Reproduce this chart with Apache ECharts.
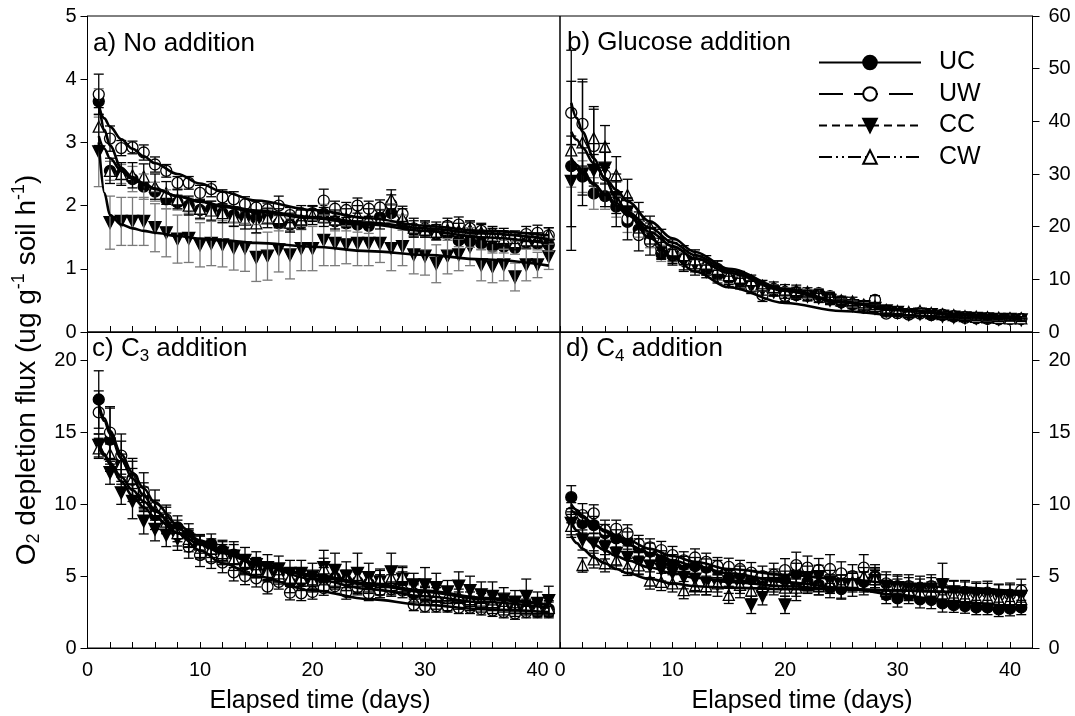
<!DOCTYPE html>
<html><head><meta charset="utf-8">
<script src="https://cdn.jsdelivr.net/npm/echarts@6/dist/echarts.min.js"></script>
<style>html,body{margin:0;padding:0;background:#fff}#chart{width:1075px;height:716px}</style>
</head><body><div id="chart"></div>
<script>
// ---------- DATA ----------
const days = [1,2,3,4,5,6,7,8,9,10,11,12,13,14,15,16,17,18,19,20,21,22,23,24,25,26,27,28,29,30,31,32,33,34,35,36,37,38,39,40,41];
const fitDays = [1,1.5,2,3,4,5,6,8,10,12,15,20,25,30,35,41];
const seriesNames = ['UC','UW','CC','CW'];
const panelTitles = ['a) No addition','b) Glucose addition','c) C3 addition','d) C4 addition'];
const xTickLabels = [0,10,20,30,40];
const yTicksA = [0,1,2,3,4,5];
const yTicksB = [0,10,20,30,40,50,60];
const yTicksCD = [0,5,10,15,20];

// a) No addition
const aUC = [3.65,2.55,2.5,2.42,2.3,2.22,2.1,2.05,2.0,1.93,1.95,1.88,1.85,1.82,1.8,1.85,1.72,1.7,1.72,1.88,1.87,1.75,1.72,1.7,1.68,1.82,1.88,1.73,1.6,1.6,1.55,1.55,1.45,1.44,1.4,1.35,1.35,1.33,1.42,1.4,1.38];
const aUW = [3.76,3.06,2.91,2.92,2.84,2.65,2.55,2.36,2.36,2.2,2.26,2.13,2.1,2.02,1.97,1.94,2.0,1.85,1.88,1.87,2.08,1.95,1.93,2.0,1.95,1.97,2.02,1.87,1.64,1.64,1.62,1.68,1.7,1.64,1.6,1.55,1.52,1.5,1.55,1.57,1.53];
const aCC = [2.85,1.73,1.75,1.75,1.75,1.65,1.57,1.47,1.48,1.38,1.4,1.38,1.33,1.33,1.18,1.2,1.3,1.22,1.32,1.32,1.45,1.4,1.38,1.4,1.4,1.4,1.32,1.35,1.22,1.2,1.08,1.2,1.22,1.35,1.06,1.03,1.06,0.87,1.06,1.06,1.19];
const aCW = [3.25,2.55,2.5,2.48,2.46,2.3,2.2,2.1,2.0,1.95,1.92,1.88,1.82,1.78,1.72,1.8,1.8,1.73,1.78,1.85,1.82,1.78,1.8,1.85,1.8,1.78,2.1,1.8,1.65,1.62,1.58,1.62,1.6,1.62,1.58,1.52,1.48,1.42,1.45,1.45,1.55];
const aUCerr = [0.2,0.15,0.15,0.2,0.2,0.15,0.15,0.12,0.12,0.15,0.12,0.12,0.12,0.1,0.1,0.12,0.12,0.1,0.1,0.12,0.15,0.15,0.12,0.12,0.12,0.12,0.15,0.12,0.1,0.1,0.1,0.1,0.1,0.1,0.1,0.1,0.1,0.1,0.1,0.1,0.1];
const aUWerr = [0.32,0.2,0.12,0.1,0.12,0.12,0.1,0.1,0.1,0.12,0.12,0.12,0.12,0.12,0.1,0.1,0.15,0.12,0.12,0.12,0.18,0.12,0.12,0.12,0.12,0.12,0.15,0.12,0.12,0.12,0.12,0.12,0.12,0.12,0.12,0.12,0.12,0.1,0.12,0.12,0.12];
const aCCerr = [0.55,0.42,0.38,0.38,0.38,0.38,0.38,0.38,0.38,0.35,0.35,0.35,0.35,0.37,0.38,0.38,0.35,0.38,0.35,0.35,0.4,0.35,0.3,0.35,0.35,0.3,0.35,0.3,0.3,0.3,0.3,0.28,0.25,0.3,0.25,0.25,0.25,0.22,0.25,0.2,0.2];
const aCWerr = [0.3,0.2,0.18,0.2,0.2,0.2,0.18,0.15,0.15,0.15,0.15,0.15,0.15,0.15,0.15,0.15,0.15,0.15,0.15,0.15,0.15,0.15,0.15,0.15,0.15,0.15,0.15,0.15,0.15,0.12,0.12,0.12,0.12,0.12,0.12,0.12,0.12,0.12,0.12,0.12,0.1];
const aUCfit = [3.65,3.2,2.95,2.6,2.45,2.35,2.27,2.15,2.06,1.98,1.9,1.8,1.7,1.6,1.5,1.4];
const aUWfit = [3.57,3.38,3.25,3.05,2.9,2.78,2.67,2.5,2.35,2.22,2.08,1.93,1.8,1.68,1.6,1.53];
const aCCfit = [3.0,2.2,1.85,1.7,1.64,1.6,1.57,1.52,1.48,1.45,1.41,1.35,1.28,1.22,1.15,1.05];
const aCWfit = [3.1,2.9,2.75,2.55,2.42,2.33,2.26,2.15,2.07,2.0,1.92,1.82,1.73,1.64,1.56,1.47];

// b) Glucose addition
const bUC = [31.5,29.5,26.3,25.8,23.8,20.9,19.5,17.5,14.9,14.5,13.9,12.5,11.8,10.8,10.2,9.5,8.8,8.6,8.2,7.6,7.0,7.2,7.4,6.8,5.6,5.3,5.0,4.6,3.9,3.6,3.4,3.6,3.2,3.2,2.9,2.8,2.6,2.6,2.5,2.5,2.5];
const bUW = [41.6,39.5,35.3,29.8,25.0,21.5,18.4,17.1,15.8,15.0,13.5,12.3,12.3,12.0,10.5,9.8,8.5,7.0,7.9,6.8,7.5,6.9,6.6,6.2,5.8,5.3,4.6,6.1,3.5,3.6,3.3,3.5,3.3,3.3,3.0,2.7,2.7,2.5,2.4,2.5,2.5];
const bCC = [28.6,30.0,30.7,31.1,25.5,22.8,20.8,18.7,15.5,14.2,13.3,12.8,11.5,10.5,9.6,9.2,8.6,8.0,7.6,7.2,7.0,6.8,6.5,6.0,5.5,5.0,4.8,4.5,4.0,3.7,3.3,3.4,3.3,3.0,2.8,2.7,2.6,2.5,2.4,2.4,2.3];
const bCW = [34.5,36.0,36.8,35.2,29.8,26.0,22.1,20.0,17.5,15.5,14.6,13.8,13.0,12.0,10.8,10.3,9.8,8.8,8.5,8.0,7.9,7.6,7.3,6.7,6.0,5.8,5.2,4.9,4.2,4.0,3.8,4.0,3.6,3.4,3.2,3.0,2.9,2.8,2.7,2.6,2.6];
const bUCerr = [4,3,3,2.5,2,2,1.5,1.5,1.5,1.2,1.2,1.2,1,1,1,1,1,0.8,0.8,0.8,0.8,0.8,0.8,0.8,0.6,0.6,0.6,0.6,0.5,0.5,0.5,0.5,0.4,0.4,0.4,0.4,0.4,0.4,0.3,0.3,0.3];
const bUWerr = [6,8,7,6,5,4,3,2.5,2,2,2,1.5,1.5,1.5,1.5,1.2,1.2,1.2,1,1,1,1,1,1,0.8,0.8,0.8,0.8,0.6,0.6,0.6,0.5,0.5,0.5,0.5,0.5,0.4,0.4,0.4,0.4,0.4];
const bCCerr = [8.6,4,3,3,3,2.5,2,2,1.5,1.5,1.5,1.2,1.2,1.2,1,1,1,1,0.8,0.8,0.8,0.8,0.8,0.6,0.6,0.6,0.6,0.6,0.5,0.5,0.5,0.5,0.5,0.4,0.4,0.4,0.4,0.4,0.3,0.3,0.3];
const bCWerr = [19,12,6,4,3.5,3,2.5,2,2,2,1.8,1.8,1.5,1.5,1.2,1.2,1,1,1,1,1,0.8,0.8,0.8,0.8,0.8,0.6,0.6,0.6,0.5,0.5,0.5,0.5,0.4,0.4,0.4,0.4,0.4,0.3,0.3,0.3];
const bUCfit = [33,31.7,30.5,28.2,26,24,22.2,19,16.3,14,11.2,7.8,5.6,4.2,3.3,2.7];
const bUWfit = [43.5,40.6,38,33,29,25.5,22.5,17.8,14.2,11.5,8.5,5.5,4.0,3.2,2.8,2.5];
const bCCfit = [32,31,30,28,26.2,24.5,22.8,19.8,17,14.6,11.6,8,5.7,4.2,3.3,2.6];
const bCWfit = [38,36.5,35,32,29.3,27,24.8,21,17.8,15.2,12,8.2,5.8,4.3,3.4,2.8];

// c) C3 addition
const cUC = [17.3,14.5,12.9,11.8,10.5,9.25,8.9,8.4,7.85,7.1,7.24,6.8,6.5,5.8,5.6,5.3,5.15,4.55,4.7,4.6,4.8,4.9,4.7,4.6,4.5,4.4,4.4,4.6,3.8,3.6,3.3,3.2,3.3,3.1,3.0,2.9,2.8,2.7,2.8,2.7,2.7];
const cUW = [16.4,15.0,13.4,11.7,10.9,9.8,8.95,8.0,7.05,6.47,6.24,5.94,5.27,5.01,4.85,4.27,4.6,3.85,3.8,3.9,4.17,4.3,3.9,4.2,3.8,4.0,4.1,4.0,3.0,2.9,2.9,2.9,2.8,2.8,2.7,2.6,2.5,2.4,2.5,2.5,2.5];
const cCC = [14.1,12.2,10.8,10.2,8.84,8.26,7.86,7.6,7.5,7.0,6.8,6.6,6.4,6.1,5.8,5.6,5.5,5.2,5.2,5.0,5.6,5.4,5.0,5.2,4.9,4.6,5.3,4.8,4.4,4.4,4.2,3.9,4.3,4.0,3.7,3.6,3.4,3.2,3.6,3.1,3.3];
const cCW = [13.9,13.5,12.8,11.8,10.5,9.6,8.8,8.0,7.6,7.2,6.9,6.6,6.2,5.9,5.5,5.3,5.2,4.9,4.9,4.7,5.55,5.0,4.8,4.9,4.7,4.8,4.9,5.0,4.0,3.8,3.7,3.6,3.6,3.4,3.3,3.2,3.0,2.9,2.9,2.8,2.8];
const cUCerr = [2.0,2.2,1.5,1.2,1.0,1.0,0.9,0.8,0.8,0.8,0.7,0.7,0.7,0.7,0.7,0.7,0.7,0.7,0.7,0.7,0.8,0.8,0.7,0.7,0.7,0.7,0.7,0.7,0.6,0.6,0.6,0.6,0.6,0.5,0.5,0.5,0.5,0.5,0.5,0.5,0.5];
const cUWerr = [1.5,1.8,1.5,1.5,1.3,1.2,1.0,0.9,0.8,0.8,0.7,0.7,0.6,0.6,0.6,0.5,0.5,0.5,0.5,0.5,0.5,0.5,0.5,0.5,0.5,0.5,0.5,0.5,0.4,0.4,0.4,0.4,0.4,0.4,0.4,0.4,0.4,0.4,0.4,0.4,0.4];
const cCCerr = [0.8,0.8,0.8,1.2,0.9,0.8,0.8,0.8,0.8,0.8,0.8,0.8,1.0,0.9,0.9,0.9,0.9,0.9,0.9,0.9,1.2,1.2,1.0,1.4,1.0,0.9,1.3,0.9,0.8,1.2,1.0,0.8,1.0,1.0,0.9,1.0,0.8,0.8,1.2,0.8,1.0];
const cCWerr = [0.7,0.7,0.7,0.7,0.7,0.7,0.6,0.6,0.6,0.6,0.6,0.6,0.6,0.6,0.6,0.6,0.6,0.6,0.6,0.6,0.7,0.7,0.6,0.6,0.6,0.6,0.7,0.6,0.5,0.5,0.5,0.5,0.5,0.5,0.5,0.5,0.5,0.5,0.5,0.5,0.5];
const cUCfit = [17,16,15.1,13.5,12.2,11.1,10.1,8.6,7.5,6.7,5.8,4.8,4.1,3.6,3.2,2.8];
const cUWfit = [16.8,15.8,14.9,13.2,11.8,10.6,9.6,8.0,6.8,5.9,5.0,4.0,3.4,3.0,2.7,2.5];
const cCCfit = [14.3,13.5,12.8,11.6,10.6,9.8,9.1,8.0,7.2,6.6,5.9,5.1,4.5,4.0,3.5,3.0];
const cCWfit = [14.0,13.4,12.9,11.9,11.0,10.2,9.5,8.3,7.4,6.7,5.9,5.0,4.4,3.9,3.4,3.0];

// d) C4 addition
const dUC = [10.5,8.7,8.56,8.0,7.63,7.48,7.0,6.7,6.17,5.9,5.78,5.7,5.6,5.5,4.85,5.1,4.8,4.7,4.9,4.75,5.2,4.6,4.4,4.2,4.1,4.6,4.6,5.0,3.69,3.45,3.69,3.39,3.34,3.1,2.98,2.92,2.82,2.82,2.69,2.74,2.82];
const dUW = [9.42,9.25,9.37,8.2,8.3,7.98,7.24,7.0,6.82,6.47,6.1,6.3,6.0,5.7,5.65,5.5,5.25,5.0,5.1,5.42,5.77,5.6,5.43,5.5,5.2,5.0,5.6,4.9,4.5,4.3,4.3,4.2,4.3,4.03,3.85,3.9,3.8,3.85,3.65,3.72,3.99];
const dCC = [8.68,7.52,7.3,7.0,6.59,6.31,5.9,5.7,5.47,5.22,4.92,4.8,4.5,4.4,4.6,4.3,3.0,3.6,4.5,3.0,4.1,4.9,4.96,4.6,4.27,4.4,4.5,4.7,4.3,4.2,4.1,4.0,4.1,4.4,3.9,3.8,3.7,3.7,3.6,3.6,3.6];
const dCW = [8.5,5.78,6.17,5.9,6.1,5.65,5.75,4.7,4.6,4.5,4.03,4.3,4.3,4.5,3.7,4.4,4.0,4.3,4.5,4.2,4.2,4.4,4.3,4.5,4.5,4.6,5.0,4.8,4.0,4.2,4.0,3.9,4.0,3.8,3.7,3.6,3.5,3.5,3.4,3.4,3.4];
const dUCerr = [0.8,0.7,0.6,0.6,0.6,0.6,0.6,0.6,0.6,0.6,0.6,0.6,0.6,0.6,0.6,0.6,0.6,0.6,0.6,0.6,0.7,0.7,0.7,0.7,0.7,0.7,0.7,0.6,0.6,0.6,0.6,0.6,0.6,0.6,0.5,0.5,0.5,0.5,0.5,0.5,0.5];
const dUWerr = [0.7,0.8,0.6,0.7,0.6,0.6,0.6,0.6,0.6,0.6,0.6,0.6,0.6,0.6,0.6,0.6,0.7,0.7,0.8,0.8,0.9,0.8,0.8,1.0,0.8,0.8,0.9,0.9,0.8,0.8,0.8,0.8,0.8,0.8,0.8,0.8,0.8,0.8,0.8,0.8,0.8];
const dCCerr = [0.8,0.7,0.7,0.8,0.8,0.8,0.8,0.8,0.8,0.8,0.8,0.8,0.8,0.8,0.8,0.8,0.6,0.6,0.8,0.6,0.8,0.8,0.8,0.8,0.8,0.8,0.8,0.8,0.8,0.8,0.8,0.8,0.8,1.5,0.8,0.8,0.8,0.8,0.8,0.8,0.8];
const dCWerr = [0.8,0.5,0.6,0.6,0.6,0.6,0.6,0.6,0.6,0.6,0.6,0.6,0.6,0.6,0.6,0.6,0.6,0.6,0.6,0.6,0.6,0.6,0.6,0.6,0.6,0.6,0.6,0.6,0.6,0.6,0.6,0.6,0.6,0.6,0.6,0.6,0.6,0.6,0.6,0.6,0.6];
const dUCfit = [10.0,9.6,9.2,8.6,8.1,7.6,7.2,6.6,6.1,5.7,5.2,4.6,4.2,3.7,3.2,2.8];
const dUWfit = [9.6,9.35,9.1,8.6,8.2,7.8,7.5,6.9,6.4,6.0,5.5,5.1,4.8,4.5,4.2,3.9];
const dCCfit = [8.7,8.2,7.8,7.2,6.8,6.4,6.1,5.6,5.2,4.9,4.6,4.3,4.1,4.0,3.9,3.7];
const dCWfit = [7.8,7.3,6.9,6.3,5.9,5.5,5.2,4.8,4.5,4.3,4.2,4.1,4.1,4.0,3.9,3.8];

// ---------- BUILD ----------
const FONT = '"Liberation Sans", Arial, sans-serif';
const panels = [
  {vals:[aUC,aUW,aCC,aCW], errs:[aUCerr,aUWerr,aCCerr,aCWerr], fits:[aUCfit,aUWfit,aCCfit,aCWfit]},
  {vals:[bUC,bUW,bCC,bCW], errs:[bUCerr,bUWerr,bCCerr,bCWerr], fits:[bUCfit,bUWfit,bCCfit,bCWfit]},
  {vals:[cUC,cUW,cCC,cCW], errs:[cUCerr,cUWerr,cCCerr,cCWerr], fits:[cUCfit,cUWfit,cCCfit,cCWfit]},
  {vals:[dUC,dUW,dCC,dCW], errs:[dUCerr,dUWerr,dCCerr,dCWerr], fits:[dUCfit,dUWfit,dCCfit,dCWfit]}
];
const GREY = '#7a7a7a';
// error-bar colour per panel and series (UC, UW, CC, CW)
const errColors = [
  [GREY, '#000', GREY, '#000'],
  [GREY, '#000', '#000', '#000'],
  ['#000', '#000', '#000', '#000'],
  ['#000', '#000', '#000', '#000']
];
const DOWN = 'path://M0,0L10,0L5,9Z';
const styles = [
  {symbol:'circle', fill:'#000', size:11, dash:'solid'},
  {symbol:'circle', fill:'#fff', size:11, dash:[24,11]},
  {symbol:DOWN, fill:'#000', size:12, dash:[8,5]},
  {symbol:'triangle', fill:'#fff', size:11, dash:[13,4,2,4,2,4]}
];

function errRender(color){
  return function(params, api){
    const x = api.value(0), y = api.value(1), e = api.value(2);
    const t = api.coord([x, y + e]);
    const b = api.coord([x, y - e]);
    const hw = 5;
    const st = {stroke: color, lineWidth: 1.3, fill: null};
    return {type:'group', children:[
      {type:'line', shape:{x1:t[0], y1:t[1], x2:b[0], y2:b[1]}, style:st},
      {type:'line', shape:{x1:t[0]-hw, y1:t[1], x2:t[0]+hw, y2:t[1]}, style:st},
      {type:'line', shape:{x1:b[0]-hw, y1:b[1], x2:b[0]+hw, y2:b[1]}, style:st}
    ]};
  };
}

const series = [];
panels.forEach((p, pi) => {
  seriesNames.forEach((nm, si) => {
    const s = styles[si];
    series.push({
      type:'scatter', name: pi + '_' + nm, xAxisIndex: pi, yAxisIndex: pi,
      data: days.map((d, i) => [d, p.vals[si][i]]),
      symbol: s.symbol, symbolSize: s.size, z: 2, silent: true,
      itemStyle: {color: s.fill, borderColor: '#000', borderWidth: 1.3, opacity: 1}
    });
    series.push({
      type:'custom', name: pi + '_' + nm + '_err', xAxisIndex: pi, yAxisIndex: pi,
      data: days.map((d, i) => [d, p.vals[si][i], p.errs[si][i]]),
      encode: {x: 0, y: 1}, renderItem: errRender(errColors[pi][si]), z: 3, silent: true, clip: true
    });
    series.push({
      type:'line', name: pi + '_' + nm + '_fit', xAxisIndex: pi, yAxisIndex: pi,
      data: fitDays.map((d, i) => [d, p.fits[si][i]]),
      symbol:'none', smooth: 0.35, smoothMonotone: 'x', z: 4, silent: true,
      lineStyle: {color:'#000', width: 2.6}
    });
  });
});
// legend entries
seriesNames.forEach((nm, si) => {
  const s = styles[si];
  series.push({
    type:'line', name: nm, xAxisIndex: 1, yAxisIndex: 1, data: [],
    symbol: s.symbol, symbolSize: 14,
    itemStyle: {color: s.fill, borderColor:'#000', borderWidth: 1.3},
    lineStyle: {color:'#000', width: 2.5, type: s.dash}
  });
});

const grids = [
  {left: 87.5, top: 16, width: 472.5, height: 316},
  {left: 560, top: 16, width: 472.5, height: 316},
  {left: 87.5, top: 332, width: 472.5, height: 316},
  {left: 560, top: 332, width: 472.5, height: 316}
].map(g => Object.assign(g, {show: true, borderColor: '#000', borderWidth: 1, containLabel: false}));

const axisLine = {show: true, onZero: false, lineStyle: {color: '#000', width: 1}};
const xAxes = [0,1,2,3].map(i => ({
  type:'value', gridIndex: i, min: 0, max: 42, interval: 2, position: 'bottom',
  axisLine, splitLine: {show: false},
  axisTick: {show: true, inside: true, length: 6, lineStyle: {color: '#000'}},
  axisLabel: {show: i >= 2, fontSize: 20, fontFamily: FONT, color: '#000', margin: 12,
    formatter: v => xTickLabels.indexOf(v) >= 0 ? String(v) : ''}
}));
function yAx(i, max, interval, ticks, right){
  return {
    type:'value', gridIndex: i, min: 0, max: max, interval: interval, position: right ? 'right' : 'left',
    axisLine, splitLine: {show: false},
    axisTick: {show: true, inside: false, length: 7, lineStyle: {color: '#000'}},
    axisLabel: {fontSize: 20, fontFamily: FONT, color: '#000', margin: right ? 16 : 11,
      showMaxLabel: ticks.indexOf(max) >= 0,
      formatter: v => ticks.indexOf(v) >= 0 ? String(v) : ''}
  };
}
const yAxes = [yAx(0, 5, 1, yTicksA, false), yAx(1, 60, 10, yTicksB, true), yAx(2, 22, 5, yTicksCD, false), yAx(3, 22, 5, yTicksCD, true)];

function titleRich(t){
  const m = t.match(/^(.*C)(\d)( .*)$/);
  if (m) return '{t|' + m[1] + '}{s|' + m[2] + '}{t|' + m[3] + '}';
  return '{t|' + t + '}';
}
const richT = {t: {fontSize: 26, fontFamily: FONT, color: '#000'}, s: {fontSize: 17, fontFamily: FONT, color: '#000', padding: [14, 0, 0, 0]}};
const titlePos = [[93, 44], [567, 43], [92, 349], [566, 349]];

const graphic = panelTitles.map((t, i) => ({
  type:'text', x: titlePos[i][0], y: titlePos[i][1], silent: true, z: 10,
  style: {text: titleRich(t), rich: richT, align: 'left', verticalAlign: 'middle'}
}));
graphic.push({
  type:'text', x: 27, y: 370, rotation: Math.PI / 2, silent: true, z: 10,
  style: {
    text: '{n|O}{sub|2}{n| depletion flux (ug g}{sup|-1}{n| soil h}{sup|-1}{n|)}',
    align: 'center', verticalAlign: 'middle',
    rich: {
      n: {fontSize: 28, fontFamily: FONT, color: '#000'},
      sub: {fontSize: 18, fontFamily: FONT, color: '#000', padding: [14, 0, 0, 0]},
      sup: {fontSize: 18, fontFamily: FONT, color: '#000', padding: [0, 0, 16, 0]}
    }
  }
});
[[320, 701], [802, 701]].forEach(p => graphic.push({
  type:'text', x: p[0], y: p[1], silent: true, z: 10,
  style: {text: 'Elapsed time (days)', fontSize: 25, fontFamily: FONT, fill: '#000', align: 'center', verticalAlign: 'middle'}
}));

const chart = echarts.init(document.getElementById('chart'), null, {renderer: 'canvas'});
chart.setOption({
  animation: false,
  backgroundColor: '#fff',
  textStyle: {fontFamily: FONT, color: '#000'},
  grid: grids, xAxis: xAxes, yAxis: yAxes,
  legend: {
    data: seriesNames, orient: 'vertical', left: 813, top: 45,
    itemWidth: 102, itemHeight: 17, itemGap: 6.5, selectedMode: false,
    textStyle: {fontSize: 25, fontFamily: FONT, color: '#000', padding: [0, 0, 0, 13]}
  },
  graphic: graphic,
  series: series
});
</script>
</body></html>
